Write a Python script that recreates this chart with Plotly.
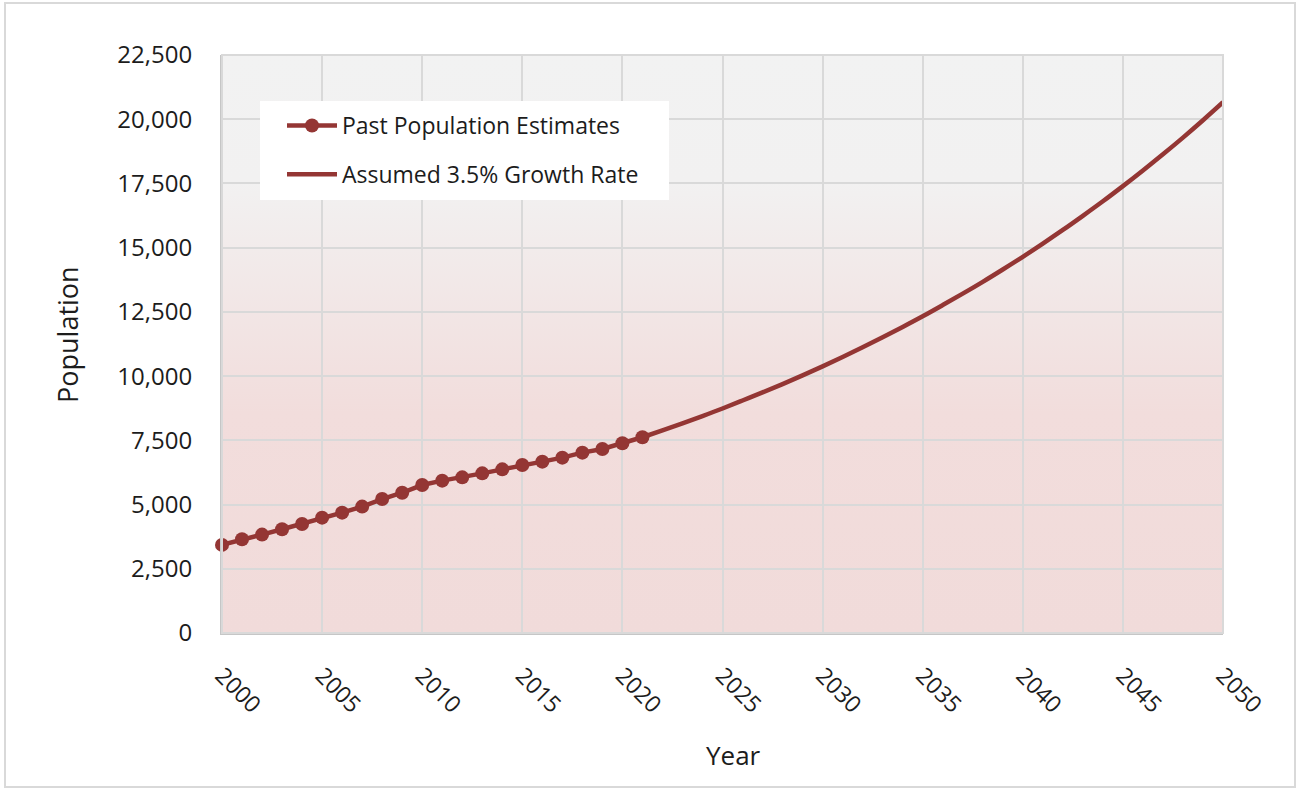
import base64
import plotly.graph_objects as go

# ---- data ----
past_years = list(range(2000, 2022))
past_pop = [3430, 3650, 3830, 4040, 4245, 4490, 4685, 4920, 5215, 5460, 5760,
            5930, 6060, 6215, 6370, 6540, 6670, 6825, 7020, 7165, 7385, 7620]

proj_years = list(range(2021, 2051))
proj_pop = [7620, 7885, 8160, 8445, 8740, 9050, 9365, 9690, 10030, 10380,
            10745, 11120, 11510, 11915, 12330, 12765, 13210, 13670, 14150, 14645,
            15160, 15690, 16240, 16805, 17395, 18005, 18635, 19285, 19960, 20660]

x_ticks = list(range(2000, 2051, 5))
y_ticks = list(range(0, 22501, 2500))

RED = "#943634"
GRID = "#d9d9d9"
TXT = "#1c1c1c"
FONT = "Open Sans"

# plot area in pixels
L, R, T, B = 222, 1223, 55, 633
W, H = 1299, 788
pw, ph = R - L, B - T


def px_x(p):
    return (p - L) / pw


def px_y(p):
    return (B - p) / ph


svg = ('<svg xmlns="http://www.w3.org/2000/svg" width="100" height="100" preserveAspectRatio="none">'
       '<defs><linearGradient id="g" x1="0" y1="0" x2="0" y2="1">'
       '<stop offset="0" stop-color="#f2f2f2"/>'
       '<stop offset="0.22" stop-color="#f2f1f1"/>'
       '<stop offset="0.62" stop-color="#f2dddc"/>'
       '<stop offset="1" stop-color="#f1dbda"/>'
       '</linearGradient></defs>'
       '<rect width="100" height="100" fill="url(#g)"/></svg>')
src = "data:image/svg+xml;base64," + base64.b64encode(svg.encode()).decode()

fig = go.Figure()
fig.add_trace(go.Scatter(
    x=past_years, y=past_pop, mode="lines+markers",
    name="Past Population Estimates", legendgroup="a",
    line=dict(color=RED, width=4.5),
    marker=dict(color=RED, size=14),
    cliponaxis=False,
))
fig.add_trace(go.Scatter(
    x=proj_years, y=proj_pop, mode="lines",
    name="Assumed 3.5% Growth Rate", legendgroup="b",
    line=dict(color=RED, width=4.5, shape="spline"),
))

fig.update_layout(
    width=W, height=H,
    margin=dict(l=L, r=W - R, t=T, b=H - B, autoexpand=False),
    paper_bgcolor="white",
    plot_bgcolor="rgba(0,0,0,0)",
    font=dict(family=FONT, color=TXT, size=23),
    showlegend=True,
    legend=dict(
        x=px_x(282), y=px_y(104), xanchor="left", yanchor="top",
        bgcolor="rgba(0,0,0,0)", borderwidth=0,
        font=dict(size=23, color=TXT, family=FONT),
        tracegroupgap=16,
        itemwidth=50,
    ),
    images=[dict(source=src, xref="paper", yref="paper", x=0, y=1,
                 sizex=1, sizey=1, sizing="stretch", layer="below",
                 xanchor="left", yanchor="top")],
    shapes=[
        dict(type="rect", xref="paper", yref="paper", x0=0, y0=0, x1=1, y1=1,
             line=dict(color=GRID, width=2), layer="above"),
        dict(type="rect", xref="paper", yref="paper",
             x0=px_x(5), x1=px_x(1295), y0=px_y(787), y1=px_y(3),
             line=dict(color=GRID, width=2)),
        dict(type="rect", xref="paper", yref="paper",
             x0=px_x(260), x1=px_x(669), y0=px_y(200), y1=px_y(101),
             fillcolor="white", line=dict(width=0), layer="above"),
    ],
    annotations=[
        dict(text="Population", xref="paper", yref="paper",
             x=px_x(67), y=px_y(335), textangle=-90, showarrow=False,
             font=dict(size=27, color=TXT, family=FONT),
             xanchor="center", yanchor="middle"),
        dict(text="Year", xref="paper", yref="paper",
             x=px_x(733), y=px_y(755), showarrow=False,
             font=dict(size=26, color=TXT, family=FONT),
             xanchor="center", yanchor="middle"),
    ],
)

fig.update_xaxes(
    range=[2000, 2050], tickvals=x_ticks, ticktext=[str(v) for v in x_ticks],
    tickangle=45, showgrid=True, gridcolor=GRID, gridwidth=2,
    showline=True, linecolor="#c6c6c6", linewidth=2,
    ticks="", ticklabelstandoff=18, zeroline=False,
    tickfont=dict(size=23, color=TXT, family=FONT),
)
fig.update_yaxes(
    range=[0, 22500], tickvals=y_ticks, ticktext=[f"{v:,}" for v in y_ticks],
    showgrid=True, gridcolor=GRID, gridwidth=2,
    showline=True, linecolor="#c6c6c6", linewidth=2,
    ticks="", ticklabelstandoff=23, zeroline=False,
    tickfont=dict(size=24, color=TXT, family=FONT),
)

fig.write_html("out.html")
